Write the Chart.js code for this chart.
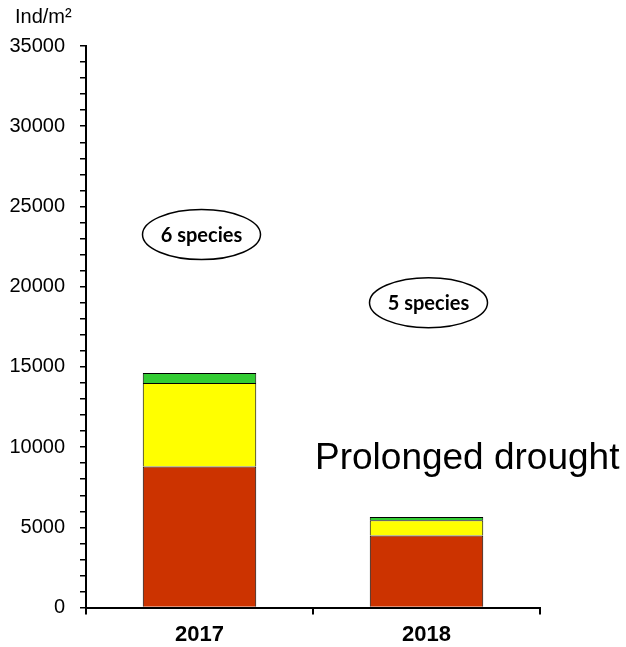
<!DOCTYPE html>
<html>
<head>
<meta charset="utf-8">
<script src="https://cdn.jsdelivr.net/npm/chart.js@4"></script>
<style>
  body { margin: 0; background: #fff; }
  #chart { display: block; }
</style>
</head>
<body>
<canvas id="chart" width="626" height="647"></canvas>
<script>
const years = ['2017', '2018'];
const redValues = [8800, 4500];
const yellowValues = [5200, 950];
const greenValues = [620, 200];
const speciesLabels = ['6 species', '5 species'];
const speciesLevels = [23250, 19000];
const yAxisTitle = 'Ind/m²';
const droughtText = 'Prolonged drought';

const annotations = {
  id: 'annotations',
  afterDraw(chart) {
    const ctx = chart.ctx;
    const x = chart.scales.x;
    const y = chart.scales.y;
    ctx.save();

    // unit label above the axis
    ctx.fillStyle = '#000';
    ctx.font = '20px "Liberation Sans", Arial, sans-serif';
    ctx.textAlign = 'left';
    ctx.textBaseline = 'middle';
    ctx.fillText(yAxisTitle, 15, 17);

    // species ellipses
    speciesLabels.forEach((label, i) => {
      const cx = x.getPixelForValue(i) + 2;
      const cy = y.getPixelForValue(speciesLevels[i]);
      ctx.beginPath();
      ctx.ellipse(cx, cy, 59, 25, 0, 0, Math.PI * 2);
      ctx.lineWidth = 1.5;
      ctx.strokeStyle = '#000';
      ctx.stroke();
      ctx.font = 'bold 20px Lato, sans-serif';
      ctx.textAlign = 'center';
      ctx.fillText(label, cx, cy + 1);
    });

    // drought note
    const half = (x.getPixelForValue(1) - x.getPixelForValue(0)) / 2;
    ctx.font = '37px "Liberation Sans", Arial, sans-serif';
    ctx.textAlign = 'left';
    ctx.fillText(droughtText, x.getPixelForValue(1) - half + 2, y.getPixelForValue(9300));
    ctx.restore();
  }
};

new Chart(document.getElementById('chart'), {
  type: 'bar',
  data: {
    labels: years,
    datasets: [
      { data: redValues, backgroundColor: '#CC3300', borderColor: '#000', borderWidth: 1 },
      { data: yellowValues, backgroundColor: '#FFFF00', borderColor: '#000', borderWidth: 1 },
      { data: greenValues, backgroundColor: '#33CC33', borderColor: '#000', borderWidth: 1 },
    ],
  },
  options: {
    responsive: false,
    animation: false,
    barPercentage: 0.5,
    categoryPercentage: 1,
    layout: {
      padding: { top: 46, right: 86, left: 0, bottom: -8 }
    },
    plugins: {
      legend: { display: false },
      tooltip: { enabled: false }
    },
    scales: {
      x: {
        stacked: true,
        border: { color: '#000', width: 2 },
        grid: {
          offset: true,
          drawOnChartArea: false,
          color: '#000',
          lineWidth: 2,
          tickLength: 7
        },
        ticks: {
          color: '#000',
          padding: 7,
          font: { family: '"Liberation Sans", Arial, sans-serif', size: 22, weight: 'bold' }
        }
      },
      y: {
        stacked: true,
        min: 0,
        max: 35000,
        afterFit: function (scale) {
          scale.width = 86;
        },
        border: { color: '#000', width: 2 },
        grid: {
          drawOnChartArea: false,
          color: '#000',
          lineWidth: 1.5,
          tickLength: 6
        },
        ticks: {
          stepSize: 1000,
          autoSkip: false,
          color: '#000',
          padding: 15,
          font: { family: '"Liberation Sans", Arial, sans-serif', size: 20 },
          callback: function (value) {
            return value % 5000 === 0 ? String(value) : '';
          }
        }
      }
    }
  },
  plugins: [annotations]
});
</script>
</body>
</html>
